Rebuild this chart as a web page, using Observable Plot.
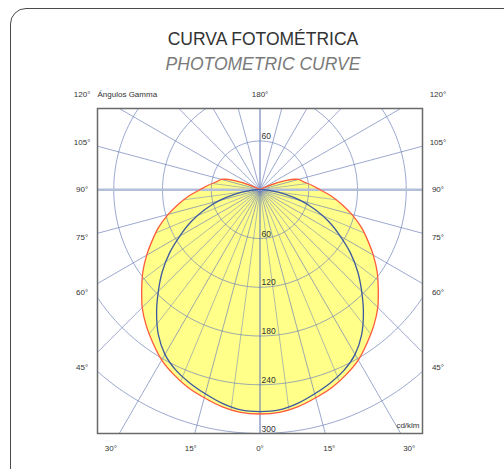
<!DOCTYPE html>
<html>
<head>
<meta charset="utf-8">
<script src="https://cdn.jsdelivr.net/npm/d3@7"></script>
<script src="https://cdn.jsdelivr.net/npm/@observablehq/plot@0.6"></script>
<style>
  html, body { margin: 0; padding: 0; background: #fff; }
  body { width: 504px; height: 469px; overflow: hidden; position: relative; font-family: "Liberation Sans", Arial, sans-serif; }
  #frame { position: absolute; left: 10px; top: 8px; width: 540px; height: 500px; border: 1.5px solid #4a4a4a; border-top-left-radius: 16px; box-sizing: border-box; }
  .ttl { position: absolute; left: 22px; width: 482px; text-align: center; line-height: 20px; font-size: 17.5px; white-space: nowrap; }
  #title { top: 29px; color: #333; }
  #subtitle { top: 54px; color: #7a7a7a; font-style: italic; }
  #chart { position: absolute; left: 0; top: 80px; }
</style>
</head>
<body>
<div id="frame"></div>
<div id="title" class="ttl">CURVA FOTOMÉTRICA</div>
<div id="subtitle" class="ttl">PHOTOMETRIC CURVE</div>
<div id="chart"></div>
<script>
// Gamma angles (degrees) and luminous intensity (cd/klm)
const gamma = [0,5,10,15,20,25,30,35,40,45,50,55,60,65,70,75,80,85,90,95,100,105,110,115,120,125,130,135,140,145,150,155,160,165,170,175,180];
const planeC0_180 = [276,275,271,265,259,251,242,230,218,205,190,176,161,146,132,117,102,88,74,64,55,49,33,12,3,0,0,0,0,0,0,0,0,0,0,0,0];
const planeC90_270 = [273,272,267,260,253,245,234,218,198,177,157,136,114,94,73,52,31,13,3,0,0,0,0,0,0,0,0,0,0,0,0,0,0,0,0,0,0];
const ringValues = [60,120,180,240,300];
const spokeAngles = [0,15,30,45,60,75,105,120,135,150,165,180];
const fineAngles = [7.5,22.5,37.5,52.5,67.5,82.5,97.5,112.5];
const angleLabels = [0,15,30,45,60,75,90,105,120,180];

const rad = d => d * Math.PI / 180;

function loop(vals) {
  const pts = [];
  for (let i = gamma.length - 1; i >= 0; i--)
    pts.push({x: -vals[i] * Math.sin(rad(gamma[i])), y: vals[i] * Math.cos(rad(gamma[i]))});
  for (let i = 1; i < gamma.length; i++)
    pts.push({x: vals[i] * Math.sin(rad(gamma[i])), y: vals[i] * Math.cos(rad(gamma[i]))});
  return pts;
}
function interp(vals, a) {
  const i = Math.min(Math.floor(a / 5), gamma.length - 2);
  const t = (a - gamma[i]) / (gamma[i + 1] - gamma[i]);
  return vals[i] + t * (vals[i + 1] - vals[i]);
}

const redLoop = loop(planeC0_180);
const blueLoop = loop(planeC90_270);

const ringPts = [];
for (const r of ringValues)
  for (let a = 0; a <= 360; a += 2)
    ringPts.push({r, x: r * Math.sin(rad(a)), y: r * Math.cos(rad(a))});

const R = 800;
const spokes = [];
for (const a of spokeAngles) for (const s of [-1, 1])
  spokes.push({x1: 0, y1: 0, x2: s * R * Math.sin(rad(a)), y2: R * Math.cos(rad(a))});
const horizon = [-1, 1].map(s => ({x1: 0, y1: 0, x2: s * R, y2: 0}));

const fine = [];
for (const a of fineAngles) for (const s of [-1, 1]) {
  const r = interp(planeC0_180, a);
  if (r > 0) fine.push({x1: 0, y1: 0, x2: s * r * Math.sin(rad(a)), y2: r * Math.cos(rad(a))});
}

const XL = 219, YB = 318, YT = -117;
const angleText = [];
for (const a of angleLabels) {
  const sides = (a === 0 || a === 180) ? [1] : [-1, 1];
  for (const s of sides) {
    const sn = Math.sin(rad(a)), cs = Math.cos(rad(a));
    const tX = sn > 1e-9 ? XL / sn : Infinity;
    const tY = cs > 1e-9 ? YB / cs : (cs < -1e-9 ? 1000 / -cs : Infinity);
    const t = Math.min(tX, tY);
    angleText.push({x: s * t * sn, y: Math.max(t * cs, YT), label: a + "°"});
  }
}
const ringLabelsBottom = ringValues.map(r => ({x: 0, y: r, label: String(r)}));
const ringLabelsTop = ringValues.filter(r => r < 100).map(r => ({x: 0, y: -r, label: String(r)}));

const gridColor = "#6b7fb8";
const chart = Plot.plot({
  width: 504,
  height: 389,
  marginLeft: 97,
  marginRight: 82,
  marginTop: 28,
  marginBottom: 36,
  x: {domain: [-200, 200], axis: null},
  y: {domain: [300, -100], axis: null},
  style: {fontFamily: "'Liberation Sans', Arial, sans-serif", background: "transparent", overflow: "visible"},
  marks: [
    Plot.line(redLoop, {x: "x", y: "y", fill: "#ffff8a", stroke: "none", curve: "catmull-rom", clip: true}),
    Plot.line(ringPts, {x: "x", y: "y", z: "r", stroke: gridColor, strokeOpacity: 0.75, strokeWidth: 0.9, clip: true}),
    Plot.link(spokes, {x1: "x1", y1: "y1", x2: "x2", y2: "y2", stroke: gridColor, strokeOpacity: 0.75, strokeWidth: 0.9, clip: true}),
    Plot.link(fine, {x1: "x1", y1: "y1", x2: "x2", y2: "y2", stroke: gridColor, strokeOpacity: 0.65, strokeWidth: 0.8, clip: true}),
    Plot.link(horizon, {x1: "x1", y1: "y1", x2: "x2", y2: "y2", stroke: "#b3bed9", strokeWidth: 2.4, clip: true}),
    Plot.frame({stroke: "#6a6a6a", strokeWidth: 1.5}),
    Plot.line(redLoop, {x: "x", y: "y", stroke: "#ff5a3a", strokeWidth: 1.3, curve: "catmull-rom", clip: true}),
    Plot.line(blueLoop, {x: "x", y: "y", stroke: "#3d5a9e", strokeWidth: 1.3, curve: "catmull-rom", clip: true}),
    Plot.text(ringLabelsBottom, {x: "x", y: "y", text: "label", textAnchor: "start", lineAnchor: "bottom", dx: 1.5, dy: -2, fontSize: 8.5, fill: "#333"}),
    Plot.text(ringLabelsTop, {x: "x", y: "y", text: "label", textAnchor: "start", lineAnchor: "bottom", dx: 1.5, dy: -2, fontSize: 8.5, fill: "#333"}),
    Plot.text(angleText, {x: "x", y: "y", text: "label", fontSize: 8, fill: "#333"}),
    Plot.text(["Ángulos Gamma"], {frameAnchor: "top-left", textAnchor: "start", lineAnchor: "middle", dy: -14, fontSize: 8, fill: "#333"}),
    Plot.text(["cd/klm"], {frameAnchor: "bottom-right", textAnchor: "end", lineAnchor: "middle", dx: -3, dy: -8, fontSize: 8, fill: "#333"})
  ]
});
document.getElementById("chart").appendChild(chart);
</script>
</body>
</html>
